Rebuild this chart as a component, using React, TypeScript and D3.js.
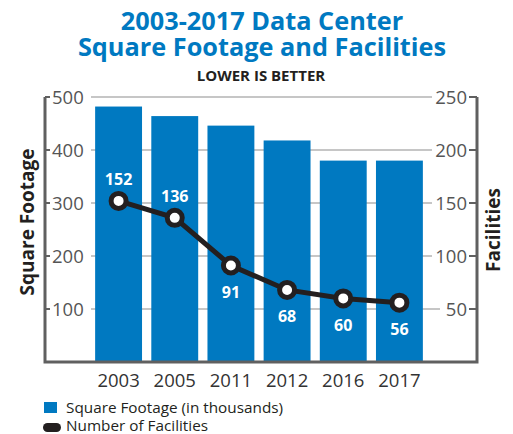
import { useEffect, useRef } from "react";
import * as d3 from "d3";

const years = ["2003", "2005", "2011", "2012", "2016", "2017"];
const squareFootage = [482, 464, 446, 418, 380, 380];
const facilities = [152, 136, 91, 68, 60, 56];
const leftTicks = [100, 200, 300, 400, 500];
const rightTicks = [50, 100, 150, 200, 250];

const width = 513;
const height = 434;
const blue = "#0079c1";
const dark = "#231f20";
const font = "'Open Sans', sans-serif";

const App = () => {
  const svgRef = useRef<SVGSVGElement>(null);

  useEffect(() => {
    const svg = d3.select(svgRef.current);
    svg.selectAll("*").remove();

    const left = 45;
    const right = 477;
    const top = 97;
    const bottom = 362;

    const x = d3
      .scaleBand<string>()
      .domain(years)
      .range([90.5, 427.5])
      .paddingInner(0.165)
      .paddingOuter(0.0825);
    const yL = d3.scaleLinear().domain([0, 500]).range([bottom, top]);
    const yR = d3.scaleLinear().domain([0, 250]).range([bottom, top]);

    // titles
    svg
      .append("g")
      .selectAll("text")
      .data(["2003-2017 Data Center", "Square Footage and Facilities"])
      .join("text")
      .attr("x", 262)
      .attr("y", (d, i) => 30 + i * 26)
      .attr("text-anchor", "middle")
      .attr("fill", blue)
      .attr("font-family", font)
      .attr("font-weight", 700)
      .attr("font-size", 25.3)
      .text((d) => d);

    svg
      .append("text")
      .attr("x", 261)
      .attr("y", 81)
      .attr("text-anchor", "middle")
      .attr("fill", dark)
      .attr("font-family", font)
      .attr("font-weight", 700)
      .attr("font-size", 15)
      .text("LOWER IS BETTER");

    // gridlines
    svg
      .append("g")
      .selectAll("line")
      .data(leftTicks)
      .join("line")
      .attr("x1", 91)
      .attr("x2", (d, i) => (i === 0 ? 440 : 432))
      .attr("y1", (d) => yL(d))
      .attr("y2", (d) => yL(d))
      .attr("stroke", "#b3b3b3")
      .attr("stroke-width", 1.5);

    // bars
    svg
      .append("g")
      .selectAll("rect")
      .data(squareFootage)
      .join("rect")
      .attr("x", (d, i) => x(years[i])!)
      .attr("width", x.bandwidth())
      .attr("y", (d) => yL(d))
      .attr("height", (d) => bottom - yL(d))
      .attr("fill", blue);

    // axis frame
    svg
      .append("path")
      .attr("d", `M${left},${top}V${bottom}H${right}V${top}`)
      .attr("fill", "none")
      .attr("stroke", "#606060")
      .attr("stroke-width", 3);

    // left axis ticks
    const lAxis = svg.append("g").attr("transform", `translate(${left},0)`);
    lAxis
      .selectAll("line")
      .data(leftTicks)
      .join("line")
      .attr("x1", 0)
      .attr("x2", 5)
      .attr("y1", (d) => yL(d))
      .attr("y2", (d) => yL(d))
      .attr("stroke", "#606060")
      .attr("stroke-width", 2);
    lAxis
      .selectAll("text")
      .data(leftTicks)
      .join("text")
      .attr("x", 7)
      .attr("y", (d) => yL(d))
      .attr("dy", "0.36em")
      .attr("fill", "#555")
      .attr("font-family", font)
      .attr("font-size", 18.5)
      .text((d) => d);

    // right axis ticks
    const rAxis = svg.append("g").attr("transform", `translate(${right},0)`);
    rAxis
      .selectAll("line")
      .data(rightTicks)
      .join("line")
      .attr("x1", 0)
      .attr("x2", -8)
      .attr("y1", (d) => yR(d))
      .attr("y2", (d) => yR(d))
      .attr("stroke", "#606060")
      .attr("stroke-width", 2);
    rAxis
      .selectAll("text")
      .data(rightTicks)
      .join("text")
      .attr("x", -10)
      .attr("y", (d) => yR(d))
      .attr("dy", "0.36em")
      .attr("text-anchor", "end")
      .attr("fill", "#555")
      .attr("font-family", font)
      .attr("font-size", 18.5)
      .text((d) => d);

    // x labels
    svg
      .append("g")
      .selectAll("text")
      .data(years)
      .join("text")
      .attr("x", (d) => x(d)! + x.bandwidth() / 2)
      .attr("y", 387)
      .attr("text-anchor", "middle")
      .attr("fill", "#333")
      .attr("font-family", font)
      .attr("font-size", 18.5)
      .text((d) => d);

    // axis titles
    svg
      .append("text")
      .attr("transform", `translate(34,222) rotate(-90)`)
      .attr("text-anchor", "middle")
      .attr("fill", dark)
      .attr("font-family", font)
      .attr("font-weight", 700)
      .attr("font-size", 19)
      .text("Square Footage");
    svg
      .append("text")
      .attr("transform", `translate(500,230) rotate(-90)`)
      .attr("text-anchor", "middle")
      .attr("fill", dark)
      .attr("font-family", font)
      .attr("font-weight", 700)
      .attr("font-size", 19)
      .text("Facilities");

    // line
    const cx = (i: number) => x(years[i])! + x.bandwidth() / 2;
    const lineGen = d3
      .line<number>()
      .x((d, i) => cx(i))
      .y((d) => yR(d));
    svg
      .append("path")
      .datum(facilities)
      .attr("d", lineGen)
      .attr("fill", "none")
      .attr("stroke", dark)
      .attr("stroke-width", 5);
    svg
      .append("g")
      .selectAll("circle")
      .data(facilities)
      .join("circle")
      .attr("cx", (d, i) => cx(i))
      .attr("cy", (d) => yR(d))
      .attr("r", 7.5)
      .attr("fill", "#fff")
      .attr("stroke", dark)
      .attr("stroke-width", 5);
    svg
      .append("g")
      .selectAll("text")
      .data(facilities)
      .join("text")
      .attr("x", (d, i) => cx(i))
      .attr("y", (d, i) => yR(d) + (i < 2 ? -22 : 26.5))
      .attr("dy", "0.36em")
      .attr("text-anchor", "middle")
      .attr("fill", "#fff")
      .attr("font-family", font)
      .attr("font-weight", 700)
      .attr("font-size", 16)
      .text((d) => d);

    // legend
    const legend = svg.append("g");
    legend
      .append("rect")
      .attr("x", 44)
      .attr("y", 402)
      .attr("width", 13)
      .attr("height", 11)
      .attr("fill", blue);
    legend
      .append("rect")
      .attr("x", 43)
      .attr("y", 423)
      .attr("width", 18)
      .attr("height", 9)
      .attr("rx", 4.5)
      .attr("fill", dark);
    legend
      .selectAll("text")
      .data(["Square Footage (in thousands)", "Number of Facilities"])
      .join("text")
      .attr("x", 66)
      .attr("y", (d, i) => 413 + i * 18)
      .attr("fill", dark)
      .attr("font-family", font)
      .attr("font-size", 15.3)
      .text((d) => d);
  }, []);

  return (
    <svg
      ref={svgRef}
      width={width}
      height={height}
      style={{ position: "absolute", left: 0, top: 0, background: "#fff" }}
    />
  );
};

export default App;
